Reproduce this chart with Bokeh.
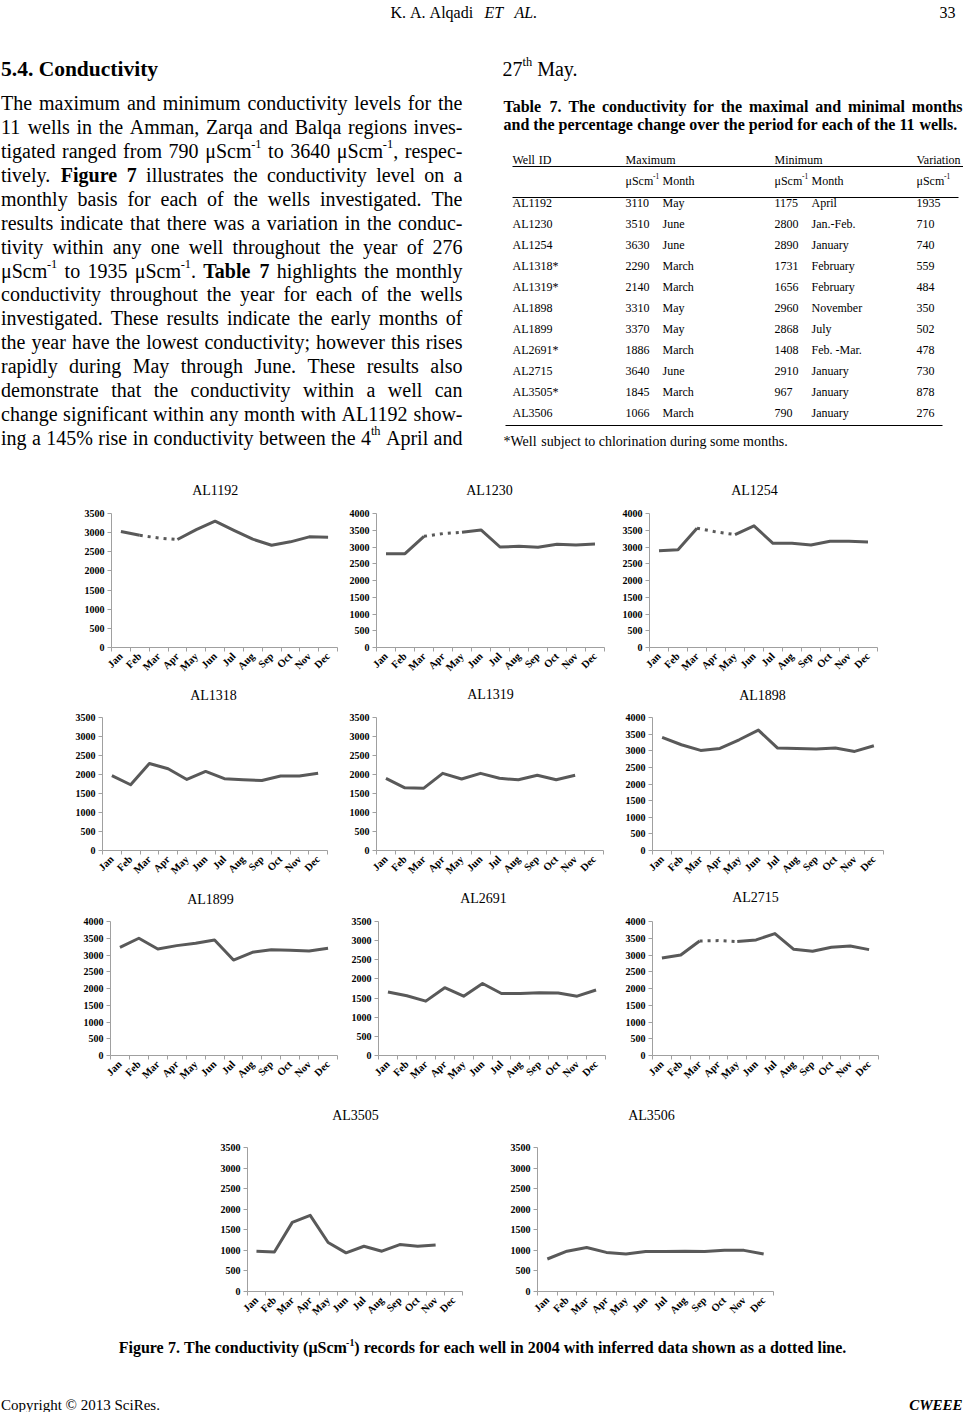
import re
from math import pi
from bokeh.plotting import figure
from bokeh.models import Range1d, FixedTicker, Spacer
from bokeh.layouts import column, row
from bokeh.core.properties import value
from bokeh.embed import file_html
from bokeh.resources import INLINE

SERIF = "Liberation Serif"
NAN = float("nan")
PAGE_W = 963

# ------------------------------------------------------------------ data
MONTHS = ["Jan", "Feb", "Mar", "Apr", "May", "Jun", "Jul", "Aug", "Sep", "Oct", "Nov", "Dec"]

AL1192 = [3030, 2930, 2860, 2820, 3080, 3300, 3060, 2830, 2670, 2760, 2890, 2880]
AL1230 = [2800, 2800, 3320, 3400, 3440, 3510, 3000, 3020, 2990, 3080, 3060, 3090]
AL1254 = [2890, 2920, 3560, 3450, 3370, 3630, 3110, 3110, 3060, 3170, 3170, 3150]
AL1318 = [1970, 1730, 2290, 2150, 1870, 2080, 1890, 1860, 1840, 1960, 1960, 2030]
AL1319 = [1900, 1650, 1640, 2030, 1880, 2030, 1900, 1860, 1980, 1860, 1980, None]
AL1898 = [3400, 3180, 3010, 3070, 3330, 3620, 3080, 3070, 3050, 3080, 2980, 3150]
AL1899 = [3230, 3500, 3180, 3280, 3350, 3450, 2850, 3080, 3160, 3140, 3120, 3200]
AL2691 = [1660, 1560, 1420, 1770, 1550, 1880, 1620, 1620, 1640, 1630, 1550, 1710]
AL2715 = [2910, 3000, 3420, 3430, 3400, 3450, 3640, 3170, 3110, 3230, 3270, 3160]
AL3505 = [980, 960, 1680, 1850, 1190, 940, 1100, 980, 1140, 1100, 1130, None]
AL3506 = [790, 980, 1070, 950, 910, 970, 970, 980, 970, 1000, 1000, 910]

# months whose values are inferred (drawn dotted)
INFERRED = {"AL1192": ["Mar"], "AL1230": ["Apr"], "AL1254": ["Apr"], "AL2715": ["Apr"]}
Y_MAX = {"AL1192": 3500, "AL1230": 4000, "AL1254": 4000, "AL1318": 3500, "AL1319": 3500,
         "AL1898": 4000, "AL1899": 4000, "AL2691": 3500, "AL2715": 4000, "AL3505": 3500,
         "AL3506": 3500}

# Table 7
WELL_IDS = ["AL1192", "AL1230", "AL1254", "AL1318*", "AL1319*", "AL1898", "AL1899",
            "AL2691*", "AL2715", "AL3505*", "AL3506"]
MAX_VALUES = ["3110", "3510", "3630", "2290", "2140", "3310", "3370", "1886", "3640", "1845", "1066"]
MAX_MONTHS = ["May", "June", "June", "March", "March", "May", "May", "March", "June", "March", "March"]
MIN_VALUES = ["1175", "2800", "2890", "1731", "1656", "2960", "2868", "1408", "2910", "967", "790"]
MIN_MONTHS = ["April", "Jan.-Feb.", "January", "February", "February", "November", "July",
              "Feb. -Mar.", "January", "January", "January"]
VARIATION = ["1935", "710", "740", "559", "484", "350", "502", "478", "730", "878", "276"]

PARAGRAPH = [
    "The maximum and minimum conductivity levels for the",
    "11 wells in the Amman, Zarqa and Balqa regions inves-",
    "tigated ranged from 790 μScm^{-1} to 3640 μScm^{-1}, respec-",
    "tively. !Figure !7 illustrates the conductivity level on a",
    "monthly basis for each of the wells investigated. The",
    "results indicate that there was a variation in the conduc-",
    "tivity within any one well throughout the year of 276",
    "μScm^{-1} to 1935 μScm^{-1}. !Table !7 highlights the monthly",
    "conductivity throughout the year for each of the wells",
    "investigated. These results indicate the early months of",
    "the year have the lowest conductivity; however this rises",
    "rapidly during May through June. These results also",
    "demonstrate that the conductivity within a well can",
    "change significant within any month with AL1192 show-",
    "ing a 145% rise in conductivity between the 4^{th} April and",
]
PARAGRAPH_END = "27^{th} May."
TABLE_CAPTION = ["Table 7. The conductivity for the maximal and minimal months",
                 "and the percentage change over the period for each of the 11 wells."]
FOOTNOTE = "*Well subject to chlorination during some months."
FIG_CAPTION = ("Figure 7. The conductivity (μScm^{-1}) records for each well in 2004 "
               "with inferred data shown as a dotted line.")

# ------------------------------------------------------------------ text metrics (Times)
def _tbl(punct, pw, up, lo):
    d = dict(zip(" !\"#$%&'()*+,-./", punct))
    d.update({c: 500 for c in "0123456789"})
    d.update(dict(zip(":;<=>?@", pw)))
    d.update(dict(zip("ABCDEFGHIJKLMNOPQRSTUVWXYZ", up)))
    d.update(dict(zip("abcdefghijklmnopqrstuvwxyz", lo)))
    d.update({"μ": 520, "©": 760})
    return d

REG = _tbl([250, 333, 408, 500, 500, 833, 778, 180, 333, 333, 500, 564, 250, 333, 250, 278],
           [278, 278, 564, 564, 564, 444, 921],
           [722, 667, 667, 722, 611, 556, 722, 722, 333, 389, 722, 611, 889, 722, 722, 556, 722, 667,
            556, 611, 722, 722, 944, 722, 722, 611],
           [444, 500, 444, 500, 444, 333, 500, 500, 278, 278, 500, 278, 778, 500, 500, 500, 500, 333,
            389, 278, 500, 500, 722, 500, 500, 444])
BOLD = _tbl([250, 333, 555, 500, 500, 1000, 833, 278, 333, 333, 500, 570, 250, 333, 250, 278],
            [333, 333, 570, 570, 570, 500, 930],
            [722, 667, 722, 722, 667, 611, 778, 778, 389, 500, 778, 667, 944, 722, 778, 611, 778, 722,
             556, 667, 722, 722, 1000, 722, 722, 667],
            [500, 556, 444, 556, 444, 333, 500, 556, 278, 333, 556, 278, 833, 556, 500, 556, 556, 444,
             389, 333, 556, 500, 722, 500, 500, 444])

SUP, RAISE = 0.62, 0.34


def seg_width(t, size, bold):
    tbl = BOLD if bold else REG
    return sum(tbl.get(c, 500) for c in t) * size / 1000.0


def parse(word, bold=False):
    if word.startswith("!"):
        bold, word = True, word[1:]
    parts = re.split(r"\^\{([^}]*)\}", word)
    return [(part, bold, k % 2 == 1) for k, part in enumerate(parts) if part]


def word_width(segs, size):
    return sum(seg_width(t, size * SUP if s else size, b) for t, b, s in segs)


class TextSet:
    """Text pieces placed by their left edge (or alignment) and vertical centre."""

    def __init__(self):
        self.items = []

    def add(self, x, y, text, size, style="normal", align="left"):
        self.items.append((x, y, text, round(size, 2), style, align))

    def line(self, text, x0, y, size, width=None, mode="left", bold=False):
        words = [parse(w, bold) for w in text.split(" ")]
        ws = [word_width(w, size) for w in words]
        gap = 0.25 * size
        if mode == "justify" and len(words) > 1:
            gap = (width - sum(ws)) / (len(words) - 1)
        total = sum(ws) + gap * (len(words) - 1)
        x = x0 - total / 2 if mode == "center" else x0
        for w, ww in zip(words, ws):
            xx = x
            for t, b, s in w:
                sz = size * SUP if s else size
                yy = y - size * RAISE if s else y
                self.add(xx, yy, t, sz, "bold" if b else "normal")
                xx += seg_width(t, sz, b)
            x += ww + gap

    def emit(self, p):
        groups = {}
        for x, y, t, s, st, al in self.items:
            groups.setdefault((s, st, al), []).append((x, y, t))
        for (s, st, al), pts in groups.items():
            p.text(x=[a[0] for a in pts], y=[a[1] for a in pts], text=[a[2] for a in pts],
                   text_font=value(SERIF), text_font_size=value(f"{s}px"),
                   text_font_style=value(st), text_align=al, text_baseline="middle",
                   text_color="black")


def blank(y0, y1, x0=0, x1=PAGE_W):
    p = figure(width=x1 - x0, height=y1 - y0, x_range=Range1d(x0, x1),
               y_range=Range1d(y1, y0), output_backend="svg", toolbar_location=None,
               min_border=0, x_axis_location=None, y_axis_location=None)
    p.outline_line_color = None
    p.grid.visible = False
    return p

# ------------------------------------------------------------------ top block (text + table)
top = blank(0, 473)
T = TextSet()
T.line("K. A. Alqadi", 390, 12, 16)
T.add(484, 12, "ET", 16, "italic")
T.add(514, 12, "AL.", 16, "italic")
T.add(955, 12, "33", 16, "normal", "right")
T.line("5.4. Conductivity", 0.5, 68, 21.5, bold=True)
BODY = 20
for k, txt in enumerate(PARAGRAPH):
    T.line(txt, 0.5, 102.5 + 23.93 * k, BODY, width=461.5, mode="justify")
T.line(PARAGRAPH_END, 502, 68, BODY)
T.line(TABLE_CAPTION[0], 503, 106, 16, width=459, mode="justify", bold=True)
T.line(TABLE_CAPTION[1], 503, 124, 16, bold=True)

TS = 12
COLX = [512, 625, 662, 774, 811, 916]
T.line("Well ID", COLX[0], 159.5, TS)
T.line("Maximum", COLX[1], 159.5, TS)
T.line("Minimum", COLX[3], 159.5, TS)
T.line("Variation", COLX[5], 159.5, TS)
for cx in (COLX[1], COLX[3], COLX[5]):
    T.line("μScm^{-1}", cx, 180, TS)
T.line("Month", COLX[2], 180, TS)
T.line("Month", COLX[4], 180, TS)
for k in range(len(WELL_IDS)):
    yc = 202.8 + 20.95 * k
    for cx, col in zip(COLX, [WELL_IDS, MAX_VALUES, MAX_MONTHS, MIN_VALUES, MIN_MONTHS, VARIATION]):
        T.line(col[k], cx, yc, TS)
T.line(FOOTNOTE, 503, 441, 14)
top.segment(x0=[512, 512, 505], y0=[166, 197, 425], x1=[963, 958, 942], y1=[166, 197, 425],
            line_color="black", line_width=1.2)
T.emit(top)

# ------------------------------------------------------------------ charts
LINE = "#595959"
AXIS = "#a0a0a0"


def chart(name, vals, frame, xspan, yspan):
    fl, fr, ft, fb = frame
    x0, x1 = xspan
    y0, y1 = yspan
    ymax = Y_MAX[name]
    n = len(MONTHS)
    p = figure(width=x1 - x0, height=y1 - y0, x_range=Range1d(0, n), y_range=Range1d(0, ymax),
               output_backend="svg", toolbar_location=None,
               min_border_left=fl - x0, min_border_right=x1 - fr,
               min_border_top=ft - y0, min_border_bottom=y1 - fb)
    p.outline_line_color = None
    p.grid.visible = False

    xs = [i + 0.5 for i in range(n)]
    inf = [MONTHS.index(m) for m in INFERRED.get(name, [])]
    solid = [NAN if (v is None or i in inf) else v for i, v in enumerate(vals)]
    p.line(xs, solid, line_color=LINE, line_width=3, line_join="round")
    if inf:
        dotted = [NAN] * n
        for i in inf:
            for j in (i - 1, i, i + 1):
                if 0 <= j < n and vals[j] is not None:
                    dotted[j] = vals[j]
        p.line(xs, dotted, line_color=LINE, line_width=3, line_dash="3 5")

    xa = p.xaxis[0]
    xa.ticker = FixedTicker(ticks=xs, minor_ticks=list(range(n + 1)))
    xa.major_label_overrides = {x: m for x, m in zip(xs, MONTHS)}
    xa.major_label_orientation = pi / 4
    xa.major_tick_out = 0
    xa.major_tick_in = 0
    xa.minor_tick_out = 4
    xa.minor_tick_in = 0
    xa.minor_tick_line_color = AXIS
    xa.major_label_standoff = 3
    xa.major_label_text_font_size = "10.5px"

    ya = p.yaxis[0]
    ya.ticker = FixedTicker(ticks=list(range(0, ymax + 1, 500)))
    ya.major_tick_out = 4
    ya.major_tick_in = 0
    ya.minor_tick_out = 0
    ya.minor_tick_in = 0
    ya.major_label_standoff = 3
    ya.major_label_text_font_size = "10px"
    for ax in (xa, ya):
        ax.axis_line_color = AXIS
        ax.major_tick_line_color = AXIS
        ax.major_label_text_font = SERIF
        ax.major_label_text_font_style = "bold"
        ax.major_label_text_color = "black"
    return p


def title_strip(y0, y1, titles):
    p = blank(y0, y1)
    ts = TextSet()
    for name, cx, cy in titles:
        ts.line(name, cx, cy, 14, mode="center")
    ts.emit(p)
    return p


S1, R1 = (473, 500), (500, 682)
S2, R2 = (682, 705), (705, 887)
S3, R3 = (887, 910), (910, 1095)
S4, R4 = (1095, 1135), (1135, 1332)

strip1 = title_strip(*S1, [("AL1192", 215, 490), ("AL1230", 489, 490), ("AL1254", 754, 490)])
row1 = row(
    chart("AL1192", AL1192, (111, 337, 511, 647), (0, 343), R1),
    chart("AL1230", AL1230, (376, 604, 509, 649), (343, 615), R1),
    chart("AL1254", AL1254, (649, 877, 513, 649), (615, PAGE_W), R1),
)
strip2 = title_strip(*S2, [("AL1318", 213, 695), ("AL1319", 490, 694), ("AL1898", 762, 695)])
row2 = row(
    chart("AL1318", AL1318, (102, 327, 715, 851), (0, 340), R2),
    chart("AL1319", AL1319, (376, 603, 714, 851), (340, 615), R2),
    chart("AL1898", AL1898, (652, 883, 717, 850), (615, PAGE_W), R2),
)
strip3 = title_strip(*S3, [("AL1899", 210, 899), ("AL2691", 483, 898), ("AL2715", 755, 897)])
row3 = row(
    chart("AL1899", AL1899, (110, 337, 921, 1058), (0, 343), R3),
    chart("AL2691", AL2691, (378, 605, 919, 1057), (343, 615), R3),
    chart("AL2715", AL2715, (652, 878, 918, 1055), (615, PAGE_W), R3),
)
strip4 = title_strip(*S4, [("AL3505", 355, 1115), ("AL3506", 651, 1115)])
row4 = row(
    Spacer(width=200, height=R4[1] - R4[0]),
    chart("AL3505", AL3505, (247, 462, 1146, 1292), (200, 495), R4),
    chart("AL3506", AL3506, (537, 773, 1147, 1291), (495, 800), R4),
)

# ------------------------------------------------------------------ bottom block
bottom = blank(1332, 1412)
B = TextSet()
B.line(FIG_CAPTION, 482, 1347, 16, mode="center", bold=True)
B.line("Copyright © 2013 SciRes.", 0.5, 1404, 15)
B.add(962, 1404, "CWEEE", 15, "bold italic", "right")
B.emit(bottom)

layout = column(top, strip1, row1, strip2, row2, strip3, row3, strip4, row4, bottom)
open("out.html", "w").write(file_html(layout, INLINE))
